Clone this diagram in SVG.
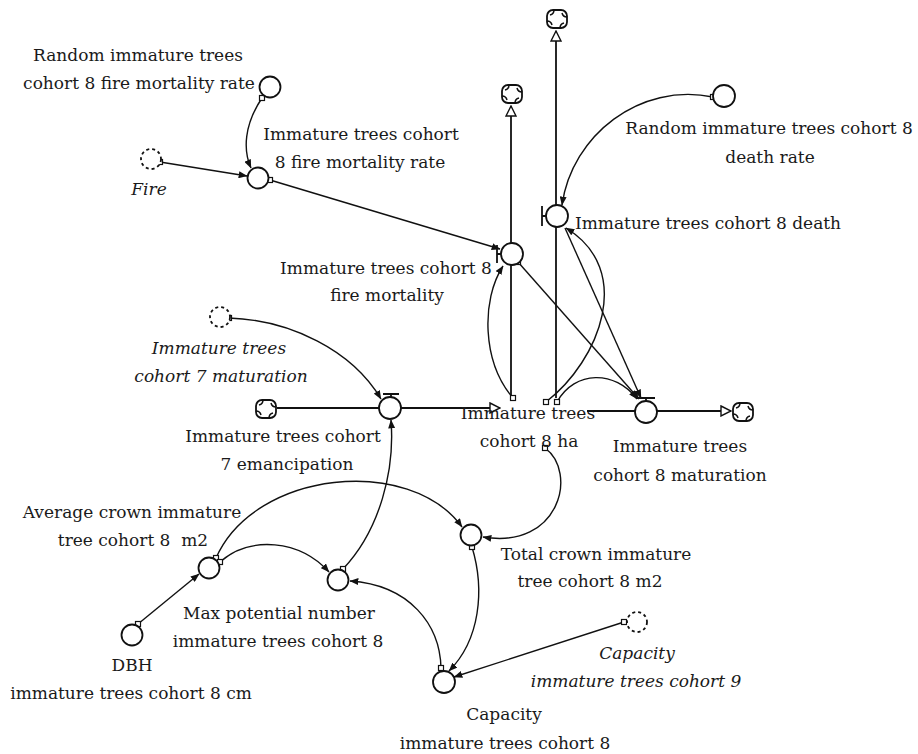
<svg xmlns="http://www.w3.org/2000/svg" width="918" height="754" viewBox="0 0 918 754">
  <defs>
    <style>
      text { font-family: "DejaVu Serif", "Noto Serif", serif; font-size: 17px; fill: #1a1a1a; text-anchor: middle; }
      .ghost-lbl { font-style: italic; }
      .aux { fill: #fff; stroke: #111; stroke-width: 1.8; }
      .ghost { fill: #fff; stroke: #111; stroke-width: 1.8; stroke-dasharray: 3 3; }
      .pipe { fill: none; stroke: #111; stroke-width: 1.8; }
      .link { fill: none; stroke: #111; stroke-width: 1.4; marker-end: url(#arr); }
      .tail { fill: #fff; stroke: #111; stroke-width: 1.2; }
      .bar { fill: none; stroke: #111; stroke-width: 1.8; }
    </style>
    <marker id="arr" viewBox="0 0 10 8" refX="9.5" refY="4" markerWidth="9" markerHeight="7" orient="auto" markerUnits="userSpaceOnUse">
      <path d="M0,0 L10,4 L0,8 z" fill="#111"/>
    </marker>
    <marker id="parr" viewBox="0 0 12 12" refX="11" refY="6" markerWidth="12" markerHeight="12" orient="auto" markerUnits="userSpaceOnUse">
      <path d="M1,1 L11,6 L1,11 z" fill="#fff" stroke="#111" stroke-width="1.4"/>
    </marker>
    <!-- source / sink cloud -->
    <g id="cloud">
      <rect x="-10" y="-9" width="20" height="18" rx="6" ry="6" fill="#fff" stroke="#111" stroke-width="1.8"/>
      <path d="M-3,-9 q0,4 -4,5 M10,-2 q-4,0 -5,-4 M3,9 q0,-4 4,-5 M-10,2 q4,0 5,4" fill="none" stroke="#111" stroke-width="1.5"/>
    </g>
  </defs>

  <rect width="918" height="754" fill="#fff"/>

  <!-- flow pipes and information links -->
  <g id="connectors">
    <!-- pipes -->
    <path class="pipe" d="M277,408 H379"/>
    <path class="pipe" d="M401,408 H500" marker-end="url(#parr)"/>
    <path class="pipe" d="M587,411 H635"/>
    <path class="pipe" d="M657,411 H731" marker-end="url(#parr)"/>
    <path class="pipe" d="M511,398 V106" marker-end="url(#parr)"/>
    <path class="pipe" d="M556,398 V31" marker-end="url(#parr)"/>

    <!-- links -->
    <path class="link" d="M262,98 C244,125 243,150 251,168"/>
    <path class="link" d="M160,162 L247,176"/>
    <path class="link" d="M270,180 L500,249"/>
    <path class="link" d="M713,97 C640,82 572,135 562,205"/>
    <path class="link" d="M513,398 C482,362 481,300 503,266"/>
    <path class="link" d="M546,402 C600,360 635,270 566,228"/>
    <path class="link" d="M557,402 C575,370 615,370 637,399"/>
    <path class="link" d="M518,262 L639,399"/>
    <path class="link" d="M565,228 L641,398"/>
    <path class="link" d="M545,448 C578,472 560,550 483,537"/>
    <path class="link" d="M216,558 C255,470 410,455 462,527"/>
    <path class="link" d="M220,562 C250,535 300,540 329,572"/>
    <path class="link" d="M343,569 C380,530 395,470 391,420"/>
    <path class="link" d="M472,547 C485,590 480,640 449,671"/>
    <path class="link" d="M441,668 C440,625 410,585 350,581"/>
    <path class="link" d="M624,622 L454,677"/>
    <path class="link" d="M138,624 L199,574"/>
    <path class="link" d="M229,318 C290,320 352,350 381,399"/>

    <!-- link tails -->
    <rect class="tail" x="259.5" y="95.5" width="5" height="5"/>
    <rect class="tail" x="157.5" y="159.5" width="5" height="5"/>
    <rect class="tail" x="267.5" y="177.5" width="5" height="5"/>
    <rect class="tail" x="515.5" y="259.5" width="5" height="5"/>
    <rect class="tail" x="510.5" y="395.5" width="5" height="5"/>
    <rect class="tail" x="543.5" y="399.5" width="5" height="5"/>
    <rect class="tail" x="554.5" y="399.5" width="5" height="5"/>
    <rect class="tail" x="542.5" y="445.5" width="5" height="5"/>
    <rect class="tail" x="710.5" y="94.5" width="5" height="5"/>
    <rect class="tail" x="226.5" y="315.5" width="5" height="5"/>
    <rect class="tail" x="213.5" y="555.5" width="5" height="5"/>
    <rect class="tail" x="217.5" y="559.5" width="5" height="5"/>
    <rect class="tail" x="340.5" y="566.5" width="5" height="5"/>
    <rect class="tail" x="469.5" y="544.5" width="5" height="5"/>
    <rect class="tail" x="438.5" y="665.5" width="5" height="5"/>
    <rect class="tail" x="621.5" y="619.5" width="5" height="5"/>
    <rect class="tail" x="135.5" y="621.5" width="5" height="5"/>
  </g>

  <!-- clouds -->
  <g id="cloud-source-left"><use href="#cloud" x="266" y="409"/></g>
  <g id="cloud-sink-right"><use href="#cloud" x="743" y="412"/></g>
  <g id="cloud-sink-fire"><use href="#cloud" x="512" y="94"/></g>
  <g id="cloud-sink-death"><use href="#cloud" x="557" y="19"/></g>

  <g id="random-fire-mortality-rate">
    <circle class="aux" cx="270" cy="87" r="10.5"/>
    <text x="138" y="61">Random immature trees</text>
    <text x="139" y="89">cohort 8 fire mortality rate</text>
  </g>

  <g id="fire">
    <circle class="ghost" cx="151" cy="159" r="10"/>
    <text class="ghost-lbl" x="149" y="195">Fire</text>
  </g>

  <g id="fire-mortality-rate">
    <circle class="aux" cx="258" cy="178" r="10.5"/>
    <text x="361" y="140">Immature trees cohort</text>
    <text x="360" y="168">8 fire mortality rate</text>
  </g>

  <g id="fire-mortality">
    <path class="bar" d="M497,245 V263 M497,254 H502"/>
    <circle class="aux" cx="512" cy="254" r="11"/>
    <text x="386" y="274">Immature trees cohort 8</text>
    <text x="387" y="301">fire mortality</text>
  </g>

  <g id="death">
    <path class="bar" d="M542,206 V226 M542,216 H546"/>
    <circle class="aux" cx="557" cy="216" r="11"/>
    <text x="575" y="229" style="text-anchor:start">Immature trees cohort 8 death</text>
  </g>

  <g id="random-death-rate">
    <circle class="aux" cx="724" cy="96" r="11"/>
    <text x="769" y="134">Random immature trees cohort 8</text>
    <text x="770" y="163">death rate</text>
  </g>

  <g id="stock-cohort-8">
    <text x="528" y="419">Immature trees</text>
    <text x="529" y="447">cohort 8 ha</text>
  </g>

  <g id="cohort-7-maturation">
    <circle class="ghost" cx="220" cy="317" r="10"/>
    <text class="ghost-lbl" x="219" y="354">Immature trees</text>
    <text class="ghost-lbl" x="221" y="382">cohort 7 maturation</text>
  </g>

  <g id="emancipation">
    <path class="bar" d="M383,394 H399 M391,394 V397"/>
    <circle class="aux" cx="390" cy="408" r="11"/>
    <text x="283" y="442">Immature trees cohort</text>
    <text x="287" y="470">7 emancipation</text>
  </g>

  <g id="maturation">
    <path class="bar" d="M637,398 H655 M646,398 V401"/>
    <circle class="aux" cx="646" cy="412" r="11"/>
    <text x="680" y="452">Immature trees</text>
    <text x="680" y="481">cohort 8 maturation</text>
  </g>

  <g id="average-crown">
    <circle class="aux" cx="209" cy="568" r="10.5"/>
    <text x="132" y="518">Average crown immature</text>
    <text x="133" y="546" xml:space="preserve">tree cohort 8  m2</text>
  </g>

  <g id="total-crown">
    <circle class="aux" cx="471" cy="535" r="10.5"/>
    <text x="596" y="560">Total crown immature</text>
    <text x="590" y="587">tree cohort 8 m2</text>
  </g>

  <g id="max-potential-number">
    <circle class="aux" cx="338" cy="580" r="10.5"/>
    <text x="279" y="619">Max potential number</text>
    <text x="278" y="647">immature trees cohort 8</text>
  </g>

  <g id="dbh">
    <circle class="aux" cx="132" cy="635" r="10.5"/>
    <text x="132" y="671">DBH</text>
    <text x="131" y="699">immature trees cohort 8 cm</text>
  </g>

  <g id="capacity">
    <circle class="aux" cx="444" cy="682" r="11"/>
    <text x="504" y="720">Capacity</text>
    <text x="505" y="749">immature trees cohort 8</text>
  </g>

  <g id="capacity-cohort-9">
    <circle class="ghost" cx="637" cy="622" r="10"/>
    <text class="ghost-lbl" x="637" y="659">Capacity</text>
    <text class="ghost-lbl" x="636" y="687">immature trees cohort 9</text>
  </g>
</svg>
